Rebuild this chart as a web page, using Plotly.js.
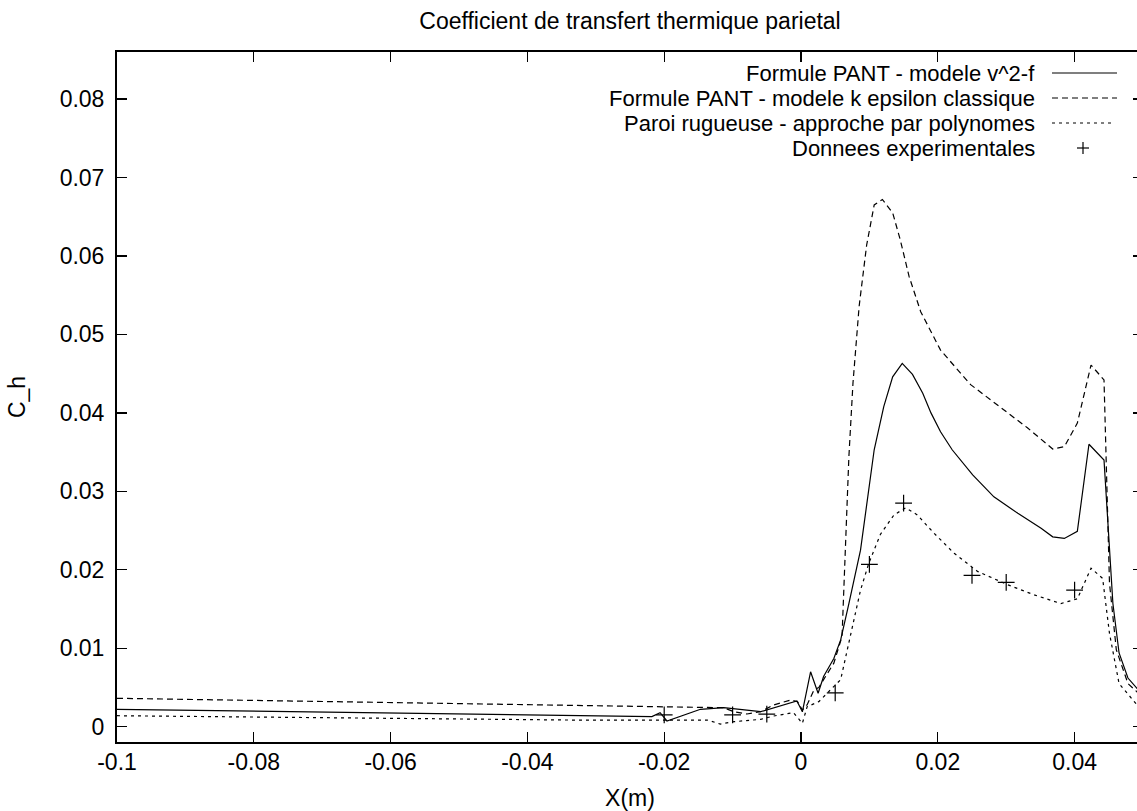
<!DOCTYPE html>
<html>
<head>
<meta charset="utf-8">
<script src="https://cdn.plot.ly/plotly-3.0.1.min.js"></script>
<style>
html,body{margin:0;padding:0;overflow:hidden;background:#fff;}
#chart{width:1146px;height:811px;}
</style>
</head>
<body>
<div id="chart"></div>
<script>
// ---- data ----
const seriesNames = [
  "Formule PANT - modele v^2-f",
  "Formule PANT - modele k epsilon classique",
  "Paroi rugueuse - approche par polynomes",
  "Donnees experimentales"
];

const xV2f = [-0.1, -0.0337, -0.0218, -0.0206, -0.0196, -0.0147, -0.0113, -0.0059, -0.0035, -0.0006, 0.0002, 0.0014, 0.0025, 0.0033, 0.0048, 0.0058, 0.0070, 0.0087, 0.0107, 0.0121, 0.0134, 0.0148, 0.0163, 0.0178, 0.0190, 0.0204, 0.0221, 0.0251, 0.0282, 0.0317, 0.0351, 0.0368, 0.0385, 0.0404, 0.0421, 0.0443, 0.0456, 0.0465, 0.0478, 0.0493, 0.0500];
const yV2f = [0.00222, 0.00149, 0.00128, 0.00179, 0.00073, 0.00222, 0.00242, 0.00191, 0.00255, 0.00328, 0.00190, 0.00700, 0.00426, 0.00640, 0.00870, 0.01106, 0.01570, 0.02250, 0.03530, 0.04080, 0.04460, 0.04630, 0.04490, 0.04250, 0.04000, 0.03760, 0.03530, 0.03210, 0.02930, 0.02720, 0.02530, 0.02420, 0.02400, 0.02490, 0.03600, 0.03400, 0.01570, 0.00940, 0.00620, 0.00470, 0.00420];

const xKeps = [-0.1, -0.0337, -0.0113, -0.0098, -0.0079, -0.0059, -0.0040, -0.0015, -0.0005, 0.0002, 0.0009, 0.0019, 0.0026, 0.0033, 0.0048, 0.0060, 0.0070, 0.0076, 0.0082, 0.0085, 0.0096, 0.0107, 0.0119, 0.0134, 0.0145, 0.0158, 0.0175, 0.0204, 0.0248, 0.0297, 0.0331, 0.0368, 0.0385, 0.0404, 0.0424, 0.0443, 0.0446, 0.0451, 0.0461, 0.0478, 0.0493, 0.0500];
const yKeps = [0.00362, 0.00268, 0.00242, 0.00191, 0.00162, 0.00191, 0.00277, 0.00341, 0.00319, 0.00213, 0.00280, 0.00470, 0.00500, 0.00600, 0.00810, 0.01150, 0.03440, 0.04380, 0.05100, 0.05360, 0.06140, 0.06650, 0.06720, 0.06550, 0.06210, 0.05740, 0.05290, 0.04800, 0.04360, 0.04040, 0.03810, 0.03540, 0.03570, 0.03870, 0.04610, 0.04420, 0.03440, 0.01830, 0.00980, 0.00550, 0.00430, 0.00390];

const xPoly = [-0.1, -0.0337, -0.0137, -0.0118, -0.0098, -0.0059, -0.0040, -0.0011, 0.0002, 0.0009, 0.0026, 0.0046, 0.0058, 0.0072, 0.0087, 0.0099, 0.0116, 0.0136, 0.0153, 0.0170, 0.0194, 0.0224, 0.0258, 0.0302, 0.0341, 0.0380, 0.0404, 0.0424, 0.0441, 0.0451, 0.0465, 0.0493, 0.0500];
const yPoly = [0.00140, 0.00085, 0.00085, 0.00034, 0.00064, 0.00094, 0.00136, 0.00179, 0.00043, 0.00255, 0.00319, 0.00490, 0.00600, 0.01150, 0.01740, 0.02080, 0.02450, 0.02700, 0.02790, 0.02700, 0.02470, 0.02210, 0.01980, 0.01810, 0.01680, 0.01570, 0.01630, 0.02020, 0.01890, 0.01190, 0.00550, 0.00260, 0.00220];

const xExp = [-0.02, -0.01, -0.005, 0.005, 0.01, 0.015, 0.025, 0.03, 0.04];
const yExp = [0.0015, 0.0015, 0.0016, 0.0043, 0.0207, 0.0285, 0.0193, 0.0184, 0.0174];

const xTickVals = [-0.1, -0.08, -0.06, -0.04, -0.02, 0, 0.02, 0.04];
const xTickText = ["-0.1", "-0.08", "-0.06", "-0.04", "-0.02", "0", "0.02", "0.04"];
const yTickVals = [0, 0.01, 0.02, 0.03, 0.04, 0.05, 0.06, 0.07, 0.08];
const yTickText = ["0", "0.01", "0.02", "0.03", "0.04", "0.05", "0.06", "0.07", "0.08"];

// ---- layout geometry ----
const W = 1146, H = 811;
const L = 117, R = 1143, T = 52, B = 742;
const px = x => (x - L) / (R - L);
const py = y => (B - y) / (B - T);
const FONT = "Liberation Sans, Arial, Helvetica, sans-serif";
const FS = 23;
const LFS = 22;          // legend text size
const lineW = 1.2;

const traces = [
  {x: xV2f, y: yV2f, mode: "lines", name: seriesNames[0],
   line: {color: "#000", width: lineW, dash: "solid"}},
  {x: xKeps, y: yKeps, mode: "lines", name: seriesNames[1],
   line: {color: "#000", width: lineW, dash: "6px,4px"}},
  {x: xPoly, y: yPoly, mode: "lines", name: seriesNames[2],
   line: {color: "#000", width: lineW, dash: "3px,4px"}},
  {x: xExp, y: yExp, mode: "markers", name: seriesNames[3],
   marker: {symbol: "cross-thin", size: 12, color: "#000", line: {color: "#000", width: 1.2}}}
];

// legend (gnuplot style: text right-aligned, sample on the right)
const rows = [73, 98, 123, 148];
const annotations = seriesNames.map((t, i) => ({
  text: t, xref: "paper", yref: "paper", x: px(1036), y: py(rows[i]),
  xanchor: "right", yanchor: "middle", showarrow: false, borderpad: 0,
  font: {family: FONT, size: LFS, color: "#000"}
}));
const shapes = [
  {type: "line", xref: "paper", yref: "paper", x0: px(1052), x1: px(1117), y0: py(rows[0]), y1: py(rows[0]),
   line: {color: "#000", width: lineW, dash: "solid"}},
  {type: "line", xref: "paper", yref: "paper", x0: px(1052), x1: px(1117), y0: py(rows[1]), y1: py(rows[1]),
   line: {color: "#000", width: lineW, dash: "6px,4px"}},
  {type: "line", xref: "paper", yref: "paper", x0: px(1052), x1: px(1114), y0: py(rows[2]), y1: py(rows[2]),
   line: {color: "#000", width: lineW, dash: "3px,4px"}},
  {type: "line", xref: "paper", yref: "paper", x0: px(1077), x1: px(1089), y0: py(rows[3]), y1: py(rows[3]),
   line: {color: "#000", width: 1.2}},
  {type: "line", xref: "paper", yref: "paper", x0: px(1083), x1: px(1083), y0: py(rows[3] - 6), y1: py(rows[3] + 6),
   line: {color: "#000", width: 1.2}}
];

const axisCommon = {
  showgrid: false, zeroline: false, showline: true, linecolor: "#000", linewidth: 2,
  mirror: "ticks", ticks: "inside", ticklen: 10, tickwidth: 1.3, tickcolor: "#000",
  tickfont: {family: FONT, size: FS, color: "#000"}, fixedrange: true
};

const layout = {
  width: W, height: H, autosize: false,
  margin: {l: L, r: W - R, t: T, b: H - B, pad: 0},
  paper_bgcolor: "#fff", plot_bgcolor: "#fff",
  showlegend: false,
  font: {family: FONT, size: FS, color: "#000"},
  title: {text: "Coefficient de transfert thermique parietal", font: {family: FONT, size: FS, color: "#000"},
          xref: "paper", x: 0.5, xanchor: "center", yref: "container", y: 1 - 21 / H, yanchor: "middle"},
  xaxis: Object.assign({}, axisCommon, {
    range: [-0.1, 0.05], tickmode: "array", tickvals: xTickVals, ticktext: xTickText,
    ticklabelstandoff: -2,
    title: {text: "X(m)", font: {family: FONT, size: FS, color: "#000"}, standoff: 22}
  }),
  yaxis: Object.assign({}, axisCommon, {
    range: [-0.00195, 0.0860], tickmode: "array", tickvals: yTickVals, ticktext: yTickText,
    ticklabelstandoff: 6,
    title: {text: "C_h", font: {family: FONT, size: FS, color: "#000"}, standoff: 28}
  }),
  annotations: annotations,
  shapes: shapes
};

Plotly.newPlot("chart", traces, layout, {displayModeBar: false, staticPlot: true});
</script>
</body>
</html>
